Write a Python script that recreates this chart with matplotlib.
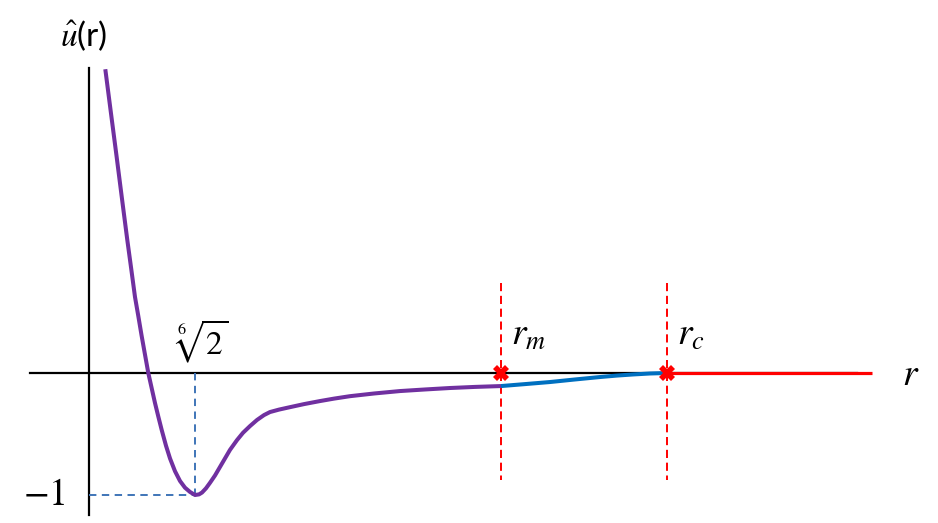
import matplotlib
matplotlib.use("Agg")
import matplotlib.pyplot as plt

plt.rcParams['mathtext.fontset'] = 'stix'
plt.rcParams['font.family'] = ['Lato', 'DejaVu Sans']

# schematic potential (purple part, r < r_m)
r_lj = [0.163, 0.218, 0.274, 0.328, 0.383, 0.422, 0.46, 0.493, 0.525, 0.559, 0.593,
        0.627, 0.66, 0.694, 0.727, 0.77, 0.81, 0.86, 0.91, 0.96, 1.01, 1.06, 1.10, 1.13,
        1.17, 1.21, 1.26, 1.31, 1.36, 1.41, 1.48, 1.54, 1.61, 1.68, 1.75, 1.81,
        1.90, 2.01, 2.15, 2.31, 2.45, 2.61, 2.85, 3.11, 3.36, 3.61, 3.86, 4.12]
u_lj = [2.49, 2.14, 1.787, 1.44, 1.09, 0.855, 0.623, 0.467, 0.311, 0.155, 0.0,
        -0.125, -0.246, -0.36, -0.467, -0.596, -0.70, -0.805, -0.885, -0.94, -0.975, -1.00, -0.995, -0.98,
        -0.945, -0.90, -0.84, -0.77, -0.70, -0.63, -0.55, -0.49, -0.435, -0.385, -0.345, -0.32,
        -0.30, -0.28, -0.255, -0.23, -0.21, -0.19, -0.168, -0.148, -0.135, -0.123, -0.114, -0.107]

# smoothing segment between r_m and r_c (blue)
r_sm = [4.12, 4.36, 4.61, 4.86, 5.11, 5.28, 5.44, 5.61, 5.78]
u_sm = [-0.107, -0.091, -0.074, -0.053, -0.033, -0.021, -0.012, -0.004, 0.0]

# zero beyond cut-off (red)
r_zero = [5.78, 7.83]
u_zero = [0.0, 0.0]

r_min, u_min = 1.06, -1.0
r_m, r_c = 4.12, 5.78

fig = plt.figure(figsize=(9.38, 5.23), dpi=100)
ax = fig.add_axes([0, 0, 1, 1])
ax.set_xlim(-0.89, 8.49)
ax.set_ylim((373 - 523) / 122, 373 / 122)
ax.axis('off')

# axes lines
ax.plot([-0.59, 7.68], [0, 0], color='black', lw=1.6, zorder=2)
ax.plot([0, 0], [-1.165, 2.50], color='black', lw=1.6, zorder=2)

# guide lines at the minimum
dash_blue = '#3F75B8'
ax.plot([r_min, r_min], [0, u_min], color=dash_blue, lw=1.4, ls=(0, (3.8, 2.8)), zorder=3)
ax.plot([0, r_min], [u_min, u_min], color=dash_blue, lw=1.4, ls=(0, (3.8, 2.8)), zorder=3)

# red dashed verticals
for rv in (r_m, r_c):
    ax.plot([rv, rv], [0.74, -0.88], color='#FF0000', lw=1.4, ls=(0, (4.2, 2.4)), zorder=3)

# curves
ax.plot(r_lj, u_lj, color='#7030A0', lw=2.9, solid_capstyle='butt',
        solid_joinstyle='round', zorder=4)
ax.plot(r_sm, u_sm, color='#0070C0', lw=2.9, solid_capstyle='butt',
        solid_joinstyle='round', zorder=4)
ax.plot(r_zero, u_zero, color='#FF0000', lw=2.3, solid_capstyle='butt', zorder=4)

# crosses
ax.plot([r_m, r_c], [0, 0], ls='none', marker='X', ms=12, color='#FF0000',
        markeredgewidth=0, zorder=5)

# labels
ax.text(-0.29, 2.675, r'$\hat{u}$(r)', fontsize=24, ha='left', va='baseline')
ax.text(0.85, 0.148, r'$\sqrt[6]{2}$', fontsize=24, ha='left', va='baseline')
ax.text(-0.663, -1.082, r'$-1$', fontsize=27, ha='left', va='baseline')
ax.text(4.225, 0.23, r'$r_m$', fontsize=27, ha='left', va='baseline')
ax.text(5.88, 0.23, r'$r_c$', fontsize=27, ha='left', va='baseline')
ax.text(8.127, -0.098, r'$r$', fontsize=27, ha='left', va='baseline')

fig.savefig('out.png', dpi=100)
